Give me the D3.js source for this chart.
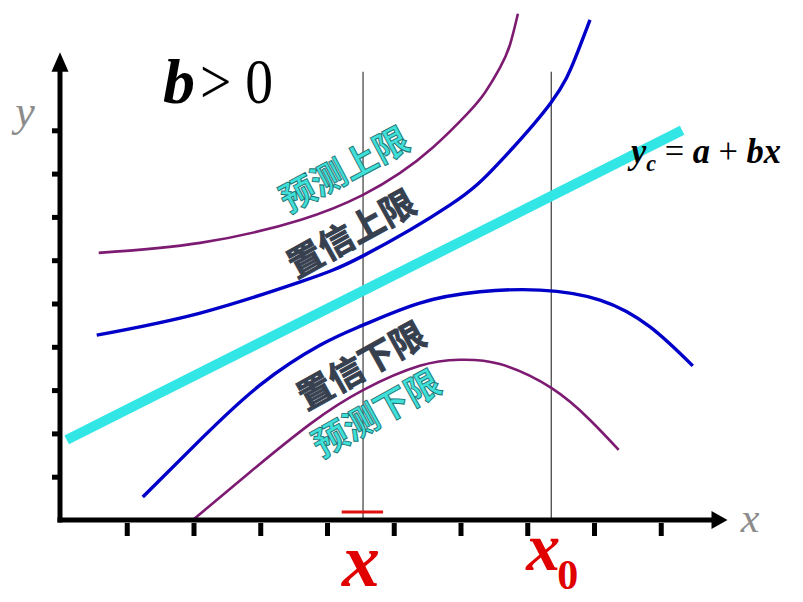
<!DOCTYPE html>
<html>
<head>
<meta charset="utf-8">
<script src="https://d3js.org/d3.v7.min.js"></script>
<style>
  body { margin: 0; padding: 0; background: #fff; }
  .serif { font-family: "Liberation Serif", "Times New Roman", serif; }
  .cjk { font-family: "Noto Sans CJK SC", sans-serif; }
</style>
</head>
<body>
<svg id="chart" width="803" height="602"></svg>
<script>
// tick positions on both axes (no labels)
var xTicks = [1, 2, 3, 4, 5, 6, 7, 8, 9];
var yTicks = [1, 2, 3, 4, 5, 6, 7, 8, 9];

// regression line y_c = a + bx, two end points
var fitX = [0.1, 9.32];
var fitY = [1.85, 9.0];

// confidence band (blue)
var confUpperX = [0.55, 2.1, 3.6, 4.54, 5.84, 6.59, 7.36, 7.72, 7.94];
var confUpperY = [4.27, 4.78, 5.5, 6.1, 7.27, 8.27, 9.65, 10.67, 11.55];
var confLowerX = [1.24, 2.1, 3.0, 3.9, 4.54, 5.39, 6.29, 7.19, 8.09, 8.84, 9.48];
var confLowerY = [0.53, 1.85, 3.12, 4.04, 4.5, 5.01, 5.27, 5.31, 5.08, 4.46, 3.56];

// prediction band (purple)
var predUpperX = [0.58, 2.1, 3.6, 4.54, 5.09, 5.59, 6.1, 6.37, 6.59, 6.74, 6.86];
var predUpperY = [6.17, 6.4, 6.93, 7.51, 8.01, 8.61, 9.38, 9.88, 10.44, 10.97, 11.69];
var predLowerX = [1.99, 2.85, 3.75, 4.54, 5.39, 5.99, 6.59, 7.36, 7.94, 8.37];
var predLowerY = [0.0, 1.11, 2.22, 3.0, 3.56, 3.7, 3.6, 3.05, 2.31, 1.62];

// the two x positions that get vertical guides
var xMean = 4.54;
var xZero = 7.36;

var svg = d3.select("#chart");

var x = d3.scaleLinear().domain([0, 10]).range([60, 727.5]);
var y = d3.scaleLinear().domain([0, 10]).range([520, 87]);

function pts(xs, ys) {
    return xs.map(function (v, i) { return [x(v), y(ys[i])]; });
}

var line = d3.line().curve(d3.curveNatural);

// vertical guides
[xMean, xZero].forEach(function (v) {
    svg.append("line")
        .attr("x1", x(v)).attr("x2", x(v))
        .attr("y1", y(10.35)).attr("y2", y(0))
        .attr("stroke", "#4a4a4a")
        .attr("stroke-width", 1.3);
});

// curves
svg.append("path").attr("d", line(pts(predUpperX, predUpperY)))
    .attr("fill", "none").attr("stroke", "#7d1b72").attr("stroke-width", 2.6);
svg.append("path").attr("d", line(pts(predLowerX, predLowerY)))
    .attr("fill", "none").attr("stroke", "#7d1b72").attr("stroke-width", 2.6);
svg.append("path").attr("d", line(pts(confUpperX, confUpperY)))
    .attr("fill", "none").attr("stroke", "#0000c8").attr("stroke-width", 3.4);
svg.append("path").attr("d", line(pts(confLowerX, confLowerY)))
    .attr("fill", "none").attr("stroke", "#0000c8").attr("stroke-width", 3.4);

// regression line
svg.append("path").attr("d", d3.line()(pts(fitX, fitY)))
    .attr("fill", "none").attr("stroke", "#33e6e6").attr("stroke-width", 10);

// axes
svg.append("line")
    .attr("x1", x(0)).attr("x2", x(0))
    .attr("y1", y(0) + 2.5).attr("y2", y(10.5))
    .attr("stroke", "#000").attr("stroke-width", 5);
svg.append("line")
    .attr("x1", x(0) - 2.5).attr("x2", x(9.8))
    .attr("y1", y(0)).attr("y2", y(0))
    .attr("stroke", "#000").attr("stroke-width", 5);

// arrow heads
svg.append("path")
    .attr("d", "M" + x(0) + "," + y(10.8) + "L" + (x(0) - 8.5) + "," + y(10.35) + "L" + (x(0) + 8.5) + "," + y(10.35) + "Z")
    .attr("fill", "#000");
svg.append("path")
    .attr("d", "M" + x(10) + "," + y(0) + "L" + x(9.76) + "," + (y(0) - 9) + "L" + x(9.76) + "," + (y(0) + 9) + "Z")
    .attr("fill", "#000");

svg.append("g")
    .attr("transform", "translate(" + (x(0) - 2) + ",0)")
    .call(d3.axisLeft(y).tickValues(yTicks).tickSize(6).tickFormat(""))
    .call(function (g) { g.select(".domain").remove(); })
    .selectAll("line").attr("stroke", "#000").attr("stroke-width", 5);

svg.append("g")
    .attr("transform", "translate(0," + (y(0) + 3) + ")")
    .call(d3.axisBottom(x).tickValues(xTicks).tickSize(13).tickFormat(""))
    .call(function (g) { g.select(".domain").remove(); })
    .selectAll("line").attr("stroke", "#000").attr("stroke-width", 5);

// red marker at the mean
svg.append("line")
    .attr("x1", x(xMean - 0.32)).attr("x2", x(xMean + 0.3))
    .attr("y1", y(0) - 8).attr("y2", y(0) - 8)
    .attr("stroke", "#e01010").attr("stroke-width", 3);

// axis names
svg.append("text").attr("class", "serif")
    .attr("x", 750).attr("y", 532)
    .attr("text-anchor", "middle")
    .attr("font-size", 42).attr("font-style", "italic")
    .attr("fill", "#8c8c8c").text("x");
svg.append("text").attr("class", "serif")
    .attr("x", 25).attr("y", 126)
    .attr("text-anchor", "middle")
    .attr("font-size", 44).attr("font-style", "italic")
    .attr("fill", "#8c8c8c").text("y");

// red x and x0 under the axis
svg.append("text").attr("class", "serif")
    .attr("x", x(xMean) - 2).attr("y", 586)
    .attr("text-anchor", "middle")
    .attr("font-size", 76).attr("font-style", "italic").attr("font-weight", "bold")
    .attr("fill", "#e00000").text("x");
svg.append("text").attr("class", "serif")
    .attr("x", x(xZero) - 25).attr("y", 570)
    .attr("font-size", 68).attr("font-style", "italic").attr("font-weight", "bold")
    .attr("fill", "#e00000").text("x");
svg.append("text").attr("class", "serif")
    .attr("x", x(xZero) + 6).attr("y", 589)
    .attr("font-size", 42).attr("font-weight", "bold")
    .attr("fill", "#e00000").text("0");

// b > 0
svg.append("text").attr("class", "serif")
    .attr("x", 163).attr("y", 103)
    .attr("font-size", 64).attr("font-style", "italic").attr("font-weight", "bold")
    .text("b");
svg.append("text").attr("class", "serif")
    .attr("x", 200).attr("y", 103)
    .attr("font-size", 64)
    .attr("textLength", 73).attr("lengthAdjust", "spacingAndGlyphs")
    .text("> 0");

// y_c = a + bx
var eq = svg.append("text").attr("class", "serif")
    .attr("x", 631).attr("y", 163)
    .attr("font-size", 36).attr("font-style", "italic").attr("font-weight", "bold")
    .attr("textLength", 150).attr("lengthAdjust", "spacingAndGlyphs");
eq.append("tspan").text("y");
eq.append("tspan").attr("font-size", 23).attr("dy", 8).text("c");
eq.append("tspan").attr("dy", -8).attr("font-style", "normal").attr("font-weight", "normal").text(" = ");
eq.append("tspan").text("a");
eq.append("tspan").attr("font-style", "normal").attr("font-weight", "normal").text(" + ");
eq.append("tspan").text("bx");

// band labels
var labels = [
    { t: "预测上限", cx: 343, cy: 167, a: -28, fill: "#3fe0d8", stroke: "#1d7474" },
    { t: "置信上限", cx: 350, cy: 231, a: -29, fill: "#36404f", stroke: "#36404f" },
    { t: "置信下限", cx: 360, cy: 363, a: -29, fill: "#36404f", stroke: "#36404f" },
    { t: "预测下限", cx: 375, cy: 411, a: -29, fill: "#3fe0d8", stroke: "#1d7474" }
];
labels.forEach(function (d) {
    svg.append("text").attr("class", "cjk")
        .attr("transform", "translate(" + d.cx + "," + d.cy + ") rotate(" + d.a + ")")
        .attr("text-anchor", "middle")
        .attr("dominant-baseline", "central")
        .attr("font-size", 35)
        .attr("font-weight", "bold")
        .attr("fill", d.fill)
        .attr("stroke", d.stroke)
        .attr("stroke-width", 0.9)
        .text(d.t);
});
</script>
</body>
</html>
